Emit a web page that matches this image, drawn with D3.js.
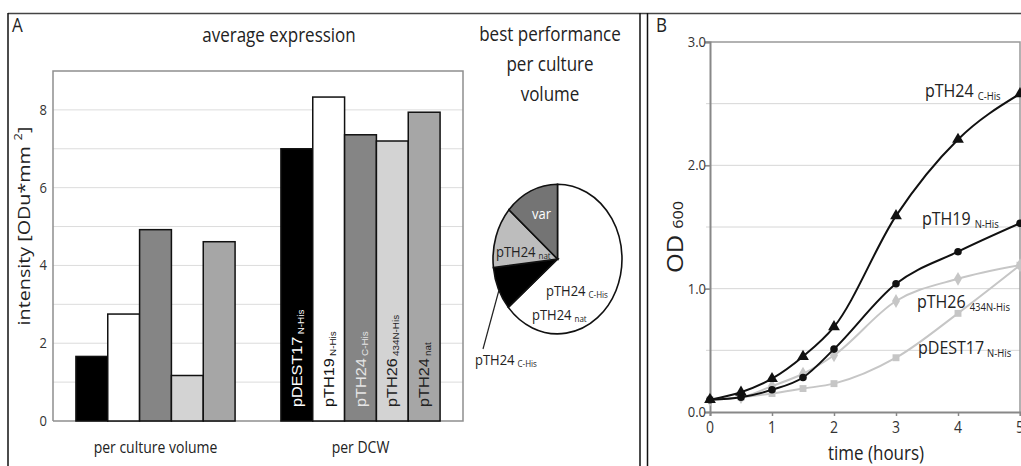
<!DOCTYPE html>
<html>
<head>
<meta charset="utf-8">
<script src="https://cdn.jsdelivr.net/npm/d3@7"></script>
<style>
  body { margin: 0; background: #fff; }
  svg { display: block; font-family: "Open Sans", sans-serif; }
</style>
</head>
<body>
<div id="chart"></div>
<script>
// --- panel A data : average expression
var groups = ["per culture volume", "per DCW"];
var constructs = ["pDEST17", "pTH19", "pTH24", "pTH26", "pTH24"];
var constructSubs = ["N-His", "N-His", "C-His", "434N-His", "nat"];
var perCulture = [1.66, 2.75, 4.92, 1.17, 4.61];
var perDCW = [7.0, 8.33, 7.36, 7.2, 7.94];
var yTicksA = [0, 2, 4, 6, 8];

// pie : best performance per culture volume
var pieNames = ["pTH24 C-His / pTH24 nat", "pTH24 C-His", "pTH24 nat", "var"];
var pieShares = [64, 9.4, 13.3, 13.6];

// --- panel B data : growth curves
var hours = [0, 0.5, 1, 1.5, 2, 3, 4, 5];
var odTH24 = [0.10, 0.16, 0.27, 0.45, 0.69, 1.59, 2.21, 2.58];
var odTH19 = [0.10, 0.12, 0.18, 0.28, 0.51, 1.04, 1.30, 1.53];
var odTH26 = [0.10, 0.12, 0.21, 0.31, 0.46, 0.90, 1.08, 1.19];
var odDEST17 = [0.10, 0.12, 0.15, 0.19, 0.23, 0.44, 0.80, 1.19];
var xTicksB = [0, 1, 2, 3, 4, 5];
var yTicksB = [0, 1, 2, 3];

var W = 1021, H = 466;
var SY = 1.16; // la figure d'origine est étirée verticalement

var svg = d3.select("#chart").append("svg").attr("width", W).attr("height", H);
svg.append("rect").attr("width", W).attr("height", H).attr("fill", "#fff");

// texte étiré verticalement, avec un indice optionnel
function label(x, y, main, sub, size, opt) {
    opt = opt || {};
    var rot = opt.rotate ? " rotate(-90) scale(" + SY + ",1)" : " scale(1," + SY + ")";
    var t = svg.append("text")
        .attr("transform", "translate(" + x + "," + y + ")" + rot)
        .attr("font-size", size)
        .attr("fill", opt.fill || "#222")
        .attr("text-anchor", opt.anchor || "start")
        .style("font-family", opt.family || null);
    t.append("tspan").text(main);
    if (sub) {
        var shift = opt.sup ? -size * 0.45 : (opt.level ? 0 : size * 0.15);
        t.append("tspan").attr("font-size", opt.subSize || size * 0.6)
            .attr("dx", opt.subGap || 3)
            .attr("dy", shift).text(sub);
        if (opt.after) {
            t.append("tspan").attr("dy", -shift).text(opt.after);
        }
    }
    return t;
}

// cadre extérieur
svg.append("line").attr("x1", 8).attr("x2", W).attr("y1", 13.5).attr("y2", 13.5)
    .attr("stroke", "#444").attr("stroke-width", 1.5);
svg.append("line").attr("x1", 8).attr("x2", 8).attr("y1", 13).attr("y2", H)
    .attr("stroke", "#111").attr("stroke-width", 1.5);
[640, 647.5].forEach(function (x) {
    svg.append("line").attr("x1", x).attr("x2", x).attr("y1", 13).attr("y2", H)
        .attr("stroke", "#111").attr("stroke-width", 1.5);
});

// ================= panel A =================
label(12, 32, "A", null, 17);
label(279, 42, "average expression", null, 17, {anchor: "middle"});
label(550, 41, "best performance", null, 17, {anchor: "middle"});
label(550, 71, "per culture", null, 17, {anchor: "middle"});
label(550, 101, "volume", null, 17, {anchor: "middle"});

var plotA = {left: 53, right: 463, top: 71, bottom: 421};
var yA = d3.scaleLinear().domain([0, 9]).range([plotA.bottom, plotA.top]);
var x0 = d3.scaleBand().domain(groups).range([plotA.left, plotA.right]).padding(0);
var x1 = d3.scaleBand().domain(d3.range(constructs.length)).range([0, x0.bandwidth()])
    .paddingInner(0).paddingOuter(0.72);
var barFill = ["#000", "#fff", "#858585", "#d3d3d3", "#a6a6a6"];
var barText = ["#fff", "#111", "#e6e6e6", "#222", "#222"];

// grille
svg.append("g").selectAll("line").data(d3.range(1, 9)).enter().append("line")
    .attr("x1", plotA.left).attr("x2", plotA.right)
    .attr("y1", function (d) { return yA(d); }).attr("y2", function (d) { return yA(d); })
    .attr("stroke", "#dcdcdc").attr("stroke-width", 1);
svg.append("path")
    .attr("d", "M" + plotA.left + "," + plotA.bottom + "V" + plotA.top + "H" + plotA.right + "V" + plotA.bottom + "H" + plotA.left)
    .attr("fill", "none").attr("stroke", "#8f8f8f").attr("stroke-width", 1.5);

// graduations
yTicksA.forEach(function (v) {
    label(47, yA(v) + 5, String(v), null, 13, {anchor: "end", fill: "#333"});
});

var barData = [];
groups.forEach(function (g, gi) {
    var vals = gi === 0 ? perCulture : perDCW;
    vals.forEach(function (v, i) { barData.push({group: g, gi: gi, i: i, value: v}); });
});

svg.append("g").selectAll("rect").data(barData).enter().append("rect")
    .attr("x", function (d) { return x0(d.group) + x1(d.i); })
    .attr("y", function (d) { return yA(d.value); })
    .attr("width", x1.bandwidth())
    .attr("height", function (d) { return yA(0) - yA(d.value); })
    .attr("fill", function (d) { return barFill[d.i]; })
    .attr("stroke", "#111").attr("stroke-width", 1.5);

// étiquettes verticales dans les barres "per DCW"
constructs.forEach(function (c, i) {
    var cx = x0(groups[1]) + x1(i) + x1.bandwidth() / 2 + 5;
    label(cx, 407, c, constructSubs[i], 14, {rotate: true, fill: barText[i],
        family: "'Liberation Sans', Arial, sans-serif", subSize: 8.5, subGap: 2});
});

groups.forEach(function (g) {
    label(x0(g) + x0.bandwidth() / 2, 453, g, null, 14, {anchor: "middle"});
});

// titre de l'axe y
label(30, 226, "intensity [ODu*mm", "2", 17, {rotate: true, anchor: "middle", sup: true,
    subSize: 11, subGap: 5, after: "]"});

// camembert
var pie = d3.pie().sort(null).value(function (d) { return d; });
var arc = d3.arc().innerRadius(0).outerRadius(64.5);
var pieFill = ["#fff", "#000", "#bdbdbd", "#747474"];
var pieG = svg.append("g").attr("transform", "translate(557.5,259) scale(1,1.16)");
pieG.selectAll("path").data(pie(pieShares)).enter().append("path")
    .attr("d", arc)
    .attr("fill", function (d, i) { return pieFill[i]; })
    .attr("stroke", "#111").attr("stroke-width", 1.6)
    .attr("vector-effect", "non-scaling-stroke");

label(532, 219, "var", null, 13, {fill: "#fff"});
label(496, 257, "pTH24", "nat", 13, {fill: "#222", subSize: 8});
label(546, 296, "pTH24", "C-His", 13, {subSize: 8});
label(532, 320, "pTH24", "nat", 13, {subSize: 8});
label(475, 365, "pTH24", "C-His", 13, {subSize: 8});
svg.append("line").attr("x1", 499).attr("y1", 290).attr("x2", 483).attr("y2", 349)
    .attr("stroke", "#222").attr("stroke-width", 1.2);

// ================= panel B =================
label(656, 32, "B", null, 17);

var plotB = {left: 710, right: 1020, top: 42, bottom: 412};
var xB = d3.scaleLinear().domain([0, 5]).range([plotB.left, plotB.right]);
var yB = d3.scaleLinear().domain([0, 3]).range([plotB.bottom, plotB.top]);

svg.append("g").selectAll("line").data([0.5, 1, 1.5, 2, 2.5]).enter().append("line")
    .attr("x1", plotB.left - 4).attr("x2", plotB.right)
    .attr("y1", function (d) { return yB(d); }).attr("y2", function (d) { return yB(d); })
    .attr("stroke", "#d6d6d6").attr("stroke-width", 1);
svg.append("path")
    .attr("d", "M" + (plotB.left - 5) + "," + plotB.top + "H" + plotB.right + "V" + plotB.bottom)
    .attr("fill", "none").attr("stroke", "#999").attr("stroke-width", 1.5);

// axes
var axX = svg.append("g").attr("transform", "translate(0," + plotB.bottom + ")")
    .call(d3.axisBottom(xB).tickValues(xTicksB).tickSize(4).tickFormat(""));
var axY = svg.append("g").attr("transform", "translate(" + plotB.left + ",0)")
    .call(d3.axisLeft(yB).tickValues(yTicksB).tickSize(5).tickFormat(""));
[axX, axY].forEach(function (a) {
    a.select(".domain").attr("stroke", "#888").attr("stroke-width", 2);
    a.selectAll(".tick line").attr("stroke", "#888").attr("stroke-width", 1.5);
});
xTicksB.forEach(function (v) {
    label(xB(v), 433, String(v), null, 14, {anchor: "middle", fill: "#333"});
});
yTicksB.forEach(function (v) {
    label(706, yB(v) + 5, d3.format(".1f")(v), null, 13, {anchor: "end", fill: "#333"});
});
label(876, 460, "time (hours)", null, 17, {anchor: "middle"});
label(683, 237, "OD", "600", 22, {rotate: true, anchor: "middle", subSize: 14, subGap: 5, level: true});

var series = [
    {values: odDEST17, color: "#c6c6c6", shape: d3.symbolSquare, size: 48},
    {values: odTH26, color: "#c6c6c6", shape: d3.symbolDiamond, size: 55},
    {values: odTH19, color: "#111", shape: d3.symbolCircle, size: 45},
    {values: odTH24, color: "#111", shape: d3.symbolTriangle, size: 60}
];
var line = d3.line().curve(d3.curveMonotoneX)
    .x(function (d, i) { return xB(hours[i]); })
    .y(function (d) { return yB(d); });

series.forEach(function (s) {
    svg.append("path").datum(s.values).attr("d", line)
        .attr("fill", "none").attr("stroke", s.color).attr("stroke-width", 2);
    svg.append("g").selectAll("path").data(s.values).enter().append("path")
        .attr("transform", function (d, i) { return "translate(" + xB(hours[i]) + "," + yB(d) + ")"; })
        .attr("d", d3.symbol().type(s.shape).size(s.size))
        .attr("fill", s.color);
});

label(925, 97, "pTH24", "C-His", 16, {subSize: 9.5, subGap: 4});
label(922, 225, "pTH19", "N-His", 16, {subSize: 9.5, subGap: 4});
label(917, 308, "pTH26", "434N-His", 16, {subSize: 9.5, subGap: 4});
label(918, 354, "pDEST17", "N-His", 16, {subSize: 9.5, subGap: 0});
</script>
</body>
</html>
